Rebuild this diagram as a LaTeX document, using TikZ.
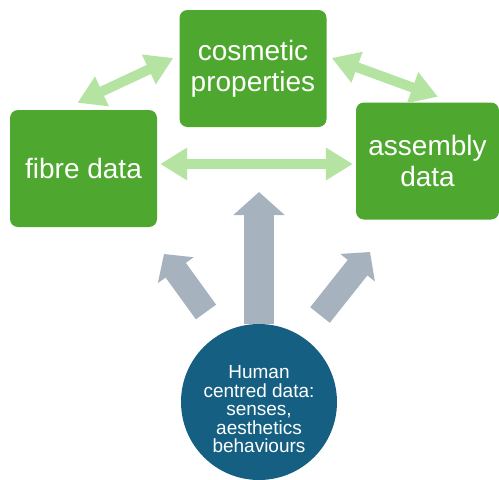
\documentclass[tikz,border=0pt]{standalone}
\usepackage{fontspec}
\setmainfont{Liberation Sans}
\usetikzlibrary{arrows.meta, calc}
\definecolor{boxgreen}{RGB}{78, 167, 46}
\definecolor{linkgreen}{RGB}{181, 228, 162}
\definecolor{pushgrey}{RGB}{167, 178, 191}
\definecolor{humanblue}{RGB}{21, 96, 130}

\begin{document}
\begin{tikzpicture}[
  x=1pt, y=-1pt,
  box/.style={fill=boxgreen, rounded corners=8pt, text=white, align=center, inner sep=0pt,
    minimum width=147pt, minimum height=117pt, font=\fontsize{28}{31}\selectfont},
  link/.style={draw=linkgreen, line width=10pt,
    arrows={Triangle[width=31pt, length=27pt]-Triangle[width=31pt, length=27pt]}},
  push/.style={draw=pushgrey, line width=#1},
  human/.style={circle, fill=humanblue, minimum size=156pt, inner sep=0pt, text=white,
    align=center, font=\fontsize{19}{18.5}\selectfont},
]
  \useasboundingbox (0,0) rectangle (499,480);

  \node[box] (cosmetic) at (253,68.5) {cosmetic\\properties};
  \node[box] (fibre) at (83.5,168.5) {fibre data};
  \node[box, minimum width=143pt] (assembly) at (427.5,161) {assembly\\data};
  \node[human] (human) at (259,402) {\\[9pt]Human\\centred data:\\senses,\\aesthetics\\behaviours};

  % links between the data boxes
  \draw[link] ($(fibre.north)+(-6,-7)$) -- ($(cosmetic.west)+(-6,-10.5)$);
  \draw[link] ($(cosmetic.east)+(5,-10.5)$) -- ($(assembly.north)+(10.5,-5.5)$);
  \draw[link] ($(fibre.east)+(3,-4.5)$) -- ($(assembly.west)+(-3,3)$);

  % human centred data feeding upwards
  \coordinate (uptip) at (259,192);
  \coordinate (lefttail) at (206,312);
  \coordinate (lefttip) at (164,254);
  \coordinate (righttail) at (320,315);
  \coordinate (righttip) at (370,252);
  \draw[push=30pt, -{Triangle[width=50pt, length=23pt]}] (human.north) -- (uptip);
  \draw[push=25pt, -{Triangle[width=43pt, length=20pt]}] (lefttail) -- (lefttip);
  \draw[push=25pt, -{Triangle[width=43pt, length=20pt]}] (righttail) -- (righttip);
\end{tikzpicture}
\end{document}
